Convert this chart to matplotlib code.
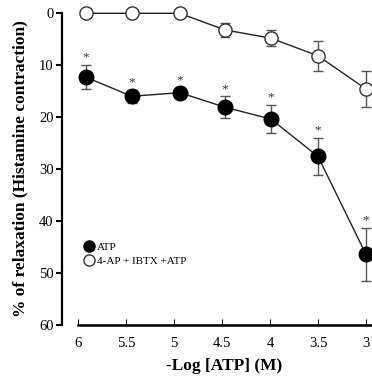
import matplotlib
matplotlib.use("Agg")
import matplotlib.pyplot as plt
from matplotlib.lines import Line2D

# Data
x_atp = [5.92, 5.44, 4.94, 4.47, 3.99, 3.50, 3.00]
y_atp = [12.3, 16.0, 15.3, 18.1, 20.4, 27.6, 46.5]
e_atp = [2.3, 1.2, 0.9, 2.1, 2.7, 3.6, 5.2]

x_blk = [5.92, 5.44, 4.94, 4.47, 3.99, 3.50, 3.00]
y_blk = [0.0, 0.0, 0.0, 3.2, 4.8, 8.2, 14.6]
e_blk = [0.0, 0.0, 0.0, 1.3, 1.6, 2.9, 3.4]

xticks = [6, 5.5, 5, 4.5, 4, 3.5, 3]
xticklabels = ["6", "5.5", "5", "4.5", "4", "3.5", "3"]
yticks = [0, 10, 20, 30, 40, 50, 60]

label_atp = "ATP"
label_blk = "4-AP + IBTX +ATP"
xlabel = "-Log [ATP] (M)"
ylabel = "% of relaxation (Histamine contraction)"

serif = ["Liberation Serif", "DejaVu Serif"]

W, H = 372, 379
fig = plt.figure(figsize=(W / 100, H / 100), dpi=100)
left_px, right_px = 78, 370.8
top_px, bot_px = 13.3, 324.5
ax = fig.add_axes([left_px / W, 1 - bot_px / H, (right_px - left_px) / W, (bot_px - top_px) / H])

ax.errorbar(x_blk, y_blk, yerr=e_blk, fmt="-o", color="#222222", mfc="white", mec="#333333",
            mew=1.0, ms=9.5, lw=1.0, elinewidth=1.0, ecolor="#555555", capsize=3.5, capthick=1.0,
            clip_on=False, zorder=3)
ax.errorbar(x_atp, y_atp, yerr=e_atp, fmt="-o", color="#222222", mfc="black", mec="black",
            mew=1.0, ms=10.5, lw=1.0, elinewidth=1.0, ecolor="#555555", capsize=3.5, capthick=1.0,
            clip_on=False, zorder=4)

for xi, yi, ei in zip(x_atp, y_atp, e_atp):
    ax.annotate("*", (xi, yi - ei), xytext=(0, 1), textcoords="offset points",
                ha="center", va="bottom", fontsize=9.5, family=serif, color="#333333",
                annotation_clip=False)

ax.set_xlim(6.0, 2.95)
ax.set_ylim(60, 0)
ax.set_xticks(xticks)
ax.set_xticklabels(xticklabels)
ax.set_yticks(yticks)

for s in ["top", "right"]:
    ax.spines[s].set_visible(False)
ax.spines["left"].set_position(("outward", 11.5))
ax.spines["left"].set_linewidth(1.6)
ax.spines["bottom"].set_linewidth(1.8)

ax.tick_params(axis="y", direction="out", length=4, width=1.5, pad=2, labelsize=10.5)
ax.tick_params(axis="x", direction="in", length=4, width=0.7, pad=9, labelsize=10.5)
for lab in ax.get_xticklabels() + ax.get_yticklabels():
    lab.set_family(serif)

ax.set_xlabel(xlabel, family=serif, fontweight="bold", fontsize=12.5, labelpad=6)
ax.set_ylabel(ylabel, family=serif, fontweight="bold", fontsize=12.5, labelpad=8)

handles = [
    Line2D([], [], ls="none", marker="o", mfc="black", mec="black", ms=8),
    Line2D([], [], ls="none", marker="o", mfc="white", mec="#333333", ms=8),
]
ax.legend(handles, [label_atp, label_blk], loc="upper left", bbox_to_anchor=(0.0, 0.287),
          frameon=False, prop={"family": serif, "size": 8}, handlelength=0.8,
          handletextpad=0.3, labelspacing=0.4, borderaxespad=0.2)

fig.savefig("out.png", dpi=100)
